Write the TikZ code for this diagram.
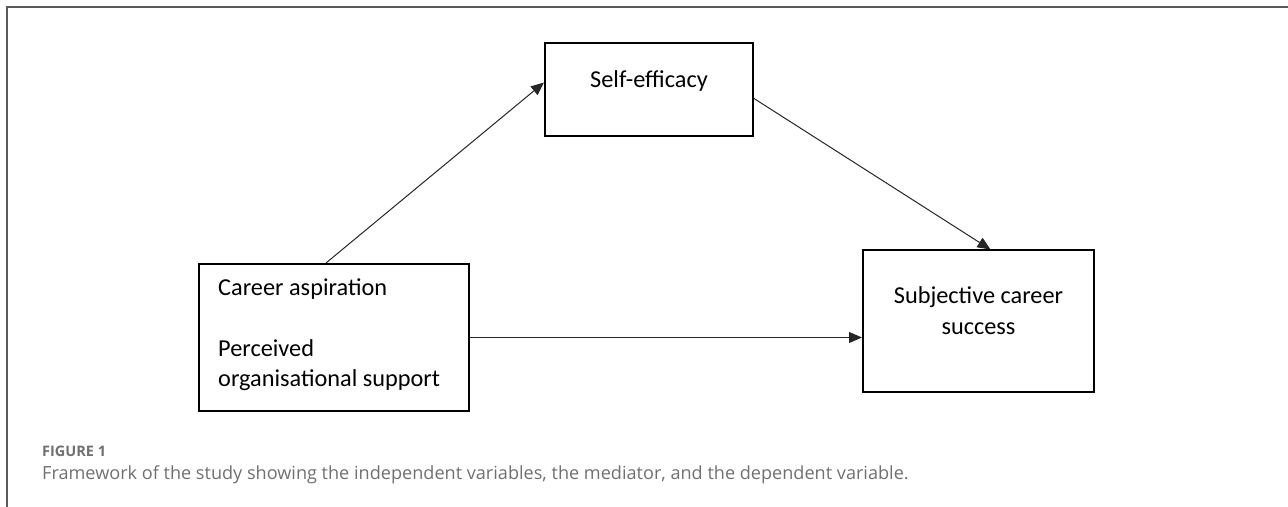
\documentclass[tikz,border=0pt]{standalone}
\usepackage{fontspec}
\setmainfont{Carlito}
\newfontfamily\capfont{Open Sans}
\usetikzlibrary{arrows.meta,calc}
\definecolor{framegray}{HTML}{5A5A5A}
\definecolor{capgray}{HTML}{707070}
\tikzset{
  box/.style={draw=black,line width=2bp,rectangle,inner sep=0pt},
  boxtext/.style={font=\fontsize{24.3bp}{29.5bp}\selectfont,inner sep=0pt},
  arr/.style={draw=black!85,line width=1bp,-{Triangle[length=13bp,width=11bp]}},
  frameline/.style={draw=framegray,line width=2bp},
}
\begin{document}
\begin{tikzpicture}[x=1bp,y=-1bp]
\useasboundingbox (0,0) rectangle (1288,507);
% frame
\coordinate (ftop) at (1288,7);
\coordinate (fcorner) at (7,7);
\coordinate (fbot) at (7,507);
\draw[frameline] (ftop) -- (fcorner) -- (fbot);
% boxes
\node[box,minimum width=208bp,minimum height=93bp] (se) at (649,89.5) {};
\node[box,minimum width=270bp,minimum height=147bp] (ca) at (334,337.5) {};
\node[box,minimum width=231bp,minimum height=141bp] (sc) at (978.5,321) {};
% texts
\node[boxtext,anchor=base] (setext) at (649,88) {Self-efficacy};
\node[boxtext,anchor=base west] (ca1) at (218,296) {Career aspiration};
\node[boxtext,anchor=base west] (ca2) at (218,357) {Perceived};
\node[boxtext,anchor=base west] (ca3) at (218,387) {organisational support};
\node[boxtext,anchor=base] (sc1) at (978.5,304) {Subjective career};
\node[boxtext,anchor=base] (sc2) at (978.5,335) {success};
% connectors
\draw[arr] ($(ca.north west)+(128,0)$) -- ($(se.west)+(0,-7)$);
\draw[arr] ($(se.east)+(0,9)$) -- ($(sc.north)+(12,0)$);
\draw[arr] (ca.east) -- (ca.east -| sc.west);
% caption
\node[anchor=base west,inner sep=0pt,text=capgray,font=\capfont\bfseries\fontsize{14.5bp}{18bp}\selectfont] (figlabel) at (42,456) {FIGURE 1};
\node[anchor=base west,inner sep=0pt,text=capgray,font=\capfont\fontsize{18.1bp}{22bp}\selectfont] (caption) at (42,479) {Framework of the study showing the independent variables, the mediator, and the dependent variable.};
\end{tikzpicture}
\end{document}
